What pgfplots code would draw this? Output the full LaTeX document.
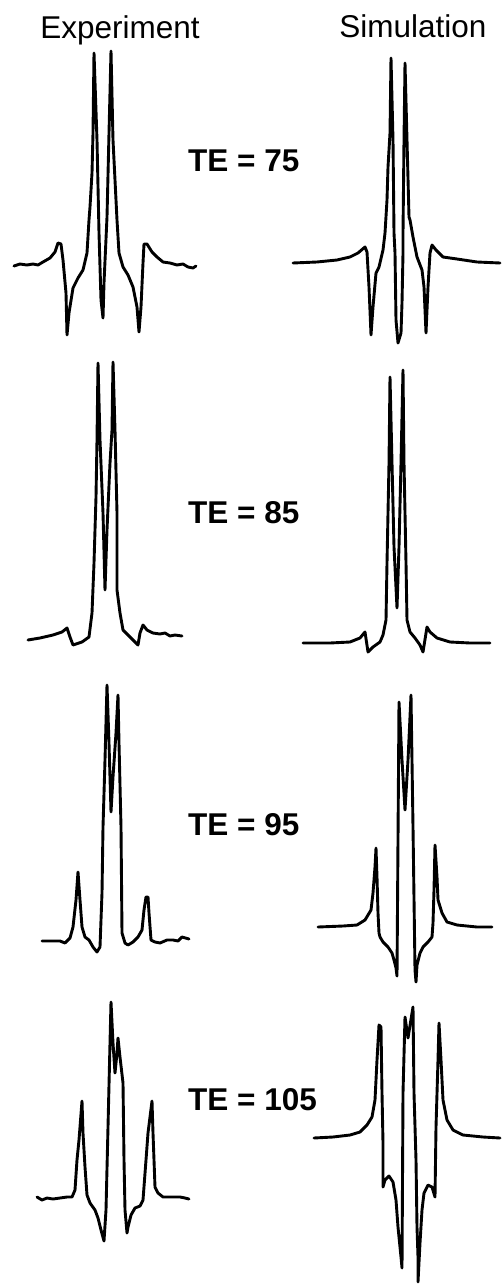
\documentclass[border=0pt]{standalone}
\usepackage{pgfplots}
\pgfplotsset{compat=1.18}
\usepackage{fontspec}
\setmainfont{Liberation Sans}
\begin{document}
\begin{tikzpicture}
\begin{axis}[
  x=1pt, y=1pt, y dir=reverse,
  xmin=0, xmax=501, ymin=0, ymax=1284,
  axis line style={draw=none}, ticks=none,
  clip=false,
  trace/.style={black, line width=2.9pt, line join=round, line cap=round, mark=none},
]
% Experiment, TE = 75
\addplot[trace] coordinates {
(14,266)(20,264)(27,265)(33,264)(38,265)(43,262)(50,258)(55,252)(58,243)(61,244)
(63,260)(66,293)(67,335)(69,313)(73,288)(78,278)(83,270)(87,253)(89,220)(90,207)
(92,173)(93,133)(94,53)(97,140)(99,233)(101,300)(103,318)(104,283)(107,217)(109,133)
(111,51)(113,140)(116,200)(117,220)(119,253)(123,267)(128,275)(133,287)(137,307)(139,332)
(141,307)(143,263)(144,244)(147,244)(152,252)(157,257)(163,262)(170,263)(177,265)(183,264)
(188,267)(193,268)(196,266)};
% Simulation, TE = 75
\addplot[trace] coordinates {
(293,263)(317,262)(337,260)(350,257)(358,253)(365,247)(367,252)(369,287)(371,335)(373,307)
(376,273)(379,267)(383,250)(385,233)(387,200)(388,167)(390,133)(391,58)(393,140)(394,233)
(395,253)(396,320)(398,343)(401,333)(402,303)(403,253)(403,233)(404,140)(405,63)(407,140)
(409,217)(410,220)(413,237)(417,257)(422,270)(424,287)(426,333)(428,287)(430,253)(432,245)
(436,250)(443,257)(457,259)(477,262)(500,263)};
% Experiment, TE = 85
\addplot[trace] coordinates {
(28,640)(40,638)(53,635)(62,632)(67,628)(70,637)(73,645)(82,642)(89,637)(92,613)
(94,563)(96,497)(97,440)(98,363)(100,440)(103,513)(105,590)(107,530)(110,463)(112,430)
(113,362)(115,430)(117,513)(117,590)(120,613)(123,630)(130,637)(138,645)(140,633)(143,625)
(147,630)(153,633)(160,634)(165,633)(170,636)(175,635)(182,636)};
% Simulation, TE = 85
\addplot[trace] coordinates {
(303,643)(330,643)(350,642)(360,638)(365,632)(368,652)(373,647)(380,642)(383,635)(386,620)
(387,563)(389,463)(390,377)(392,463)(394,547)(397,608)(399,547)(401,463)(403,370)(404,463)
(406,563)(407,620)(410,632)(415,638)(420,645)(423,652)(427,627)(430,632)(437,638)(450,642)
(470,643)(490,643)};
% Experiment, TE = 95
\addplot[trace] coordinates {
(42,941)(60,941)(65,943)(70,938)(73,927)(76,900)(78,872)(80,900)(82,927)(85,937)
(89,940)(93,947)(97,952)(100,947)(102,893)(103,827)(105,760)(107,685)(109,743)(111,812)
(113,777)(116,733)(118,695)(119,743)(121,827)(122,933)(125,943)(128,945)(133,942)(138,937)
(142,930)(144,910)(146,897)(148,897)(149,913)(151,940)(155,942)(160,943)(167,940)(173,940)
(178,941)(182,937)(189,939)};
% Simulation, TE = 95
\addplot[trace] coordinates {
(318,927)(343,926)(357,925)(365,920)(371,910)(373,893)(375,867)(376,848)(377,877)(378,913)
(379,933)(380,937)(383,942)(388,947)(392,953)(394,960)(396,968)(397,976)(399,702)(402,760)
(405,810)(408,760)(411,695)(413,827)(415,970)(416,982)(417,965)(420,953)(423,947)(428,942)
(432,937)(433,923)(434,890)(435,845)(437,877)(438,900)(442,913)(447,922)(457,925)(477,927)
(492,927)};
% Experiment, TE = 105
\addplot[trace] coordinates {
(37,1197)(42,1200)(47,1198)(53,1199)(60,1198)(67,1197)(72,1197)(75,1190)(77,1160)(79,1140)
(82,1101)(83,1133)(85,1167)(87,1195)(90,1203)(95,1210)(98,1218)(101,1230)(104,1241)(106,1210)
(108,1127)(110,1043)(111,1002)(113,1043)(115,1073)(117,1053)(118,1038)(120,1057)(123,1083)(124,1160)
(125,1210)(127,1233)(128,1227)(131,1215)(135,1208)(140,1206)(143,1200)(146,1160)(148,1133)(152,1101)
(153,1133)(155,1187)(158,1193)(163,1197)(170,1197)(180,1197)(185,1198)(189,1199)};
% Simulation, TE = 105
\addplot[trace] coordinates {
(314,1138)(333,1137)(350,1135)(360,1132)(367,1125)(372,1117)(375,1100)(377,1060)(379,1025)(381,1027)
(382,1093)(383,1143)(383,1187)(385,1180)(389,1176)(393,1182)(396,1200)(398,1227)(401,1257)(402,1268)
(403,1093)(405,1017)(408,1038)(413,1007)(414,1093)(416,1160)(417,1227)(418,1257)(418,1282)(420,1243)
(422,1210)(424,1193)(428,1185)(432,1187)(435,1197)(436,1127)(438,1060)(439,1023)(441,1060)(443,1100)
(447,1120)(453,1130)(463,1135)(483,1137)(500,1138)};

% column headings and echo-time labels
\begin{scope}[every node/.style={inner sep=0pt, font=\fontsize{31.5}{36}\selectfont}]
\node[anchor=base] at (axis cs:120,39) {Experiment};
\node[anchor=base] at (axis cs:413,38) {Simulation};
\node[anchor=base west, font=\fontsize{31.5}{36}\selectfont\bfseries] at (axis cs:188,172) {TE = 75};
\node[anchor=base west, font=\fontsize{31.5}{36}\selectfont\bfseries] at (axis cs:188,523) {TE = 85};
\node[anchor=base west, font=\fontsize{31.5}{36}\selectfont\bfseries] at (axis cs:188,835) {TE = 95};
\node[anchor=base west, font=\fontsize{31.5}{36}\selectfont\bfseries] at (axis cs:188,1110) {TE = 105};
\end{scope}
\end{axis}
\end{tikzpicture}
\end{document}
